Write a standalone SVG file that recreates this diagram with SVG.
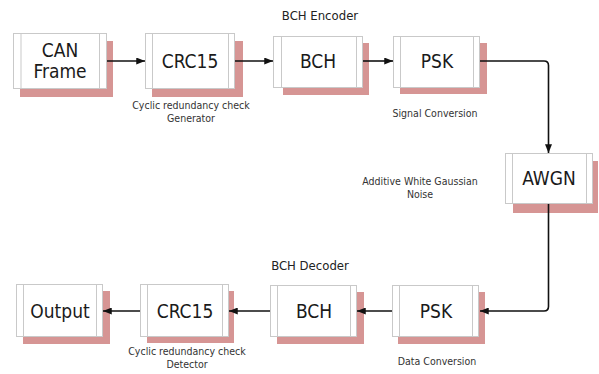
<svg xmlns="http://www.w3.org/2000/svg" width="599" height="374" viewBox="0 0 599 374">
<defs>
<style>
.shadow{fill:#d69594;}
.box{fill:#ffffff;stroke:#c9c9c9;stroke-width:1;}
.inner{stroke:#c9c9c9;stroke-width:1;}
.lbl{font-family:"DejaVu Sans Condensed","DejaVu Sans",sans-serif;font-stretch:condensed;font-size:19px;fill:#1a1a1a;text-anchor:middle;}
.cap{font-family:"DejaVu Sans Condensed","DejaVu Sans",sans-serif;font-stretch:condensed;font-size:10.5px;fill:#333333;text-anchor:middle;}
.title{font-family:"DejaVu Sans Condensed","DejaVu Sans",sans-serif;font-stretch:condensed;font-size:13px;fill:#222222;text-anchor:middle;}
.wire{fill:none;stroke:#111111;stroke-width:1.6;}
</style>
<marker id="arr" viewBox="0 0 10 10" refX="10" refY="5" markerWidth="5" markerHeight="5" orient="auto" markerUnits="userSpaceOnUse">
<path d="M0,0 L10,5 L0,10 z" fill="#111111"/>
</marker>
<marker id="arrow" viewBox="0 0 10 8" refX="10" refY="4" markerWidth="9" markerHeight="7" orient="auto" markerUnits="userSpaceOnUse">
<path d="M0,0 L10,4 L0,8 z" fill="#111111"/>
</marker>
</defs>
<rect width="599" height="374" fill="#ffffff"/>

<text class="title" x="320" y="20">BCH Encoder</text>
<text class="title" x="310" y="270">BCH Decoder</text>

<g id="can">
<rect class="shadow" x="20" y="41" width="93" height="56"/>
<rect class="box" x="13.5" y="33.5" width="93" height="55"/>
<line class="inner" x1="21" y1="33.5" x2="21" y2="88.5"/>
<line class="inner" x1="99.5" y1="33.5" x2="99.5" y2="88.5"/>
<text class="lbl" x="60" y="57">CAN</text>
<text class="lbl" x="60" y="78">Frame</text>
</g>

<g id="crc_enc">
<rect class="shadow" x="152" y="41" width="91" height="56"/>
<rect class="box" x="145.5" y="33.5" width="89" height="55"/>
<line class="inner" x1="152.5" y1="33.5" x2="152.5" y2="88.5"/>
<line class="inner" x1="228.5" y1="33.5" x2="228.5" y2="88.5"/>
<text class="lbl" x="190" y="68">CRC15</text>
<text class="cap" x="191" y="109">Cyclic redundancy check</text>
<text class="cap" x="191" y="122">Generator</text>
</g>

<g id="bch_enc">
<rect class="shadow" x="283" y="43" width="86" height="52"/>
<rect class="box" x="273.5" y="36.5" width="89" height="51"/>
<line class="inner" x1="281.5" y1="36.5" x2="281.5" y2="87.5"/>
<line class="inner" x1="356.5" y1="36.5" x2="356.5" y2="87.5"/>
<text class="lbl" x="318" y="68">BCH</text>
</g>

<g id="psk_enc">
<rect class="shadow" x="400" y="43" width="87" height="51"/>
<rect class="box" x="393.5" y="36.5" width="86" height="51"/>
<line class="inner" x1="400.5" y1="36.5" x2="400.5" y2="87.5"/>
<line class="inner" x1="473.5" y1="36.5" x2="473.5" y2="87.5"/>
<text class="lbl" x="437" y="68">PSK</text>
<text class="cap" x="435" y="117">Signal Conversion</text>
</g>

<g id="awgn">
<rect class="shadow" x="513" y="161" width="85" height="52"/>
<rect class="box" x="505.5" y="153.5" width="87" height="50"/>
<line class="inner" x1="512.5" y1="153.5" x2="512.5" y2="203.5"/>
<line class="inner" x1="586.5" y1="153.5" x2="586.5" y2="203.5"/>
<text class="lbl" x="549" y="185">AWGN</text>
<text class="cap" x="420" y="185">Additive White Gaussian</text>
<text class="cap" x="420" y="198">Noise</text>
</g>

<g id="psk_dec">
<rect class="shadow" x="398" y="292" width="87" height="52"/>
<rect class="box" x="392.5" y="285.5" width="86" height="51"/>
<line class="inner" x1="399.5" y1="285.5" x2="399.5" y2="336.5"/>
<line class="inner" x1="472.5" y1="285.5" x2="472.5" y2="336.5"/>
<text class="lbl" x="436" y="318">PSK</text>
<text class="cap" x="437" y="365">Data Conversion</text>
</g>

<g id="bch_dec">
<rect class="shadow" x="277" y="292" width="87" height="52"/>
<rect class="box" x="270.5" y="285.5" width="86" height="51"/>
<line class="inner" x1="277.5" y1="285.5" x2="277.5" y2="336.5"/>
<line class="inner" x1="350.5" y1="285.5" x2="350.5" y2="336.5"/>
<text class="lbl" x="314" y="318">BCH</text>
</g>

<g id="crc_dec">
<rect class="shadow" x="147" y="291" width="87" height="52"/>
<rect class="box" x="140.5" y="284.5" width="88" height="52"/>
<line class="inner" x1="147.5" y1="284.5" x2="147.5" y2="336.5"/>
<line class="inner" x1="222.5" y1="284.5" x2="222.5" y2="336.5"/>
<text class="lbl" x="185" y="318">CRC15</text>
<text class="cap" x="187" y="355">Cyclic redundancy check</text>
<text class="cap" x="187" y="368">Detector</text>
</g>

<g id="output">
<rect class="shadow" x="23" y="291" width="87" height="53"/>
<rect class="box" x="16.5" y="284.5" width="86" height="52"/>
<line class="inner" x1="23.5" y1="284.5" x2="23.5" y2="336.5"/>
<line class="inner" x1="96.5" y1="284.5" x2="96.5" y2="336.5"/>
<text class="lbl" x="60" y="318">Output</text>
</g>

<g id="connectors">
<path class="wire" d="M107,61 H145" marker-end="url(#arrow)"/>
<path class="wire" d="M235,61 H273" marker-end="url(#arrow)"/>
<path class="wire" d="M363,61 H393" marker-end="url(#arrow)"/>
<path class="wire" d="M480,61 H544 Q548.5,61 548.5,65.5 V153" marker-end="url(#arrow)"/>
<path class="wire" d="M548.5,204 V306.5 Q548.5,311 544,311 H480" marker-end="url(#arrow)"/>
<path class="wire" d="M392,311 H357" marker-end="url(#arrow)"/>
<path class="wire" d="M270,311 H229" marker-end="url(#arrow)"/>
<path class="wire" d="M140,311 H103" marker-end="url(#arrow)"/>
</g>
</svg>
